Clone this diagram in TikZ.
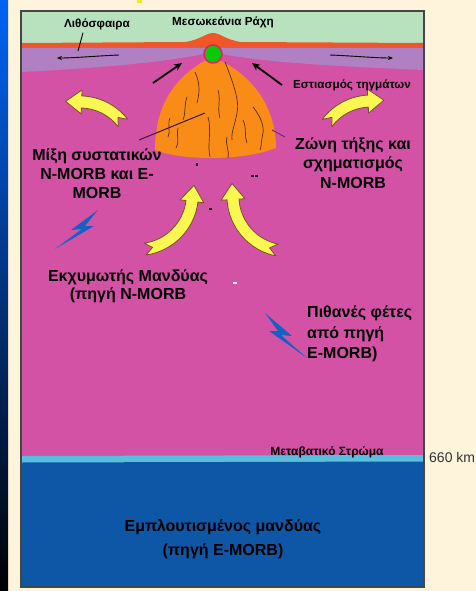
\documentclass[tikz,border=0pt]{standalone}
\usepackage{fontspec}
\setmainfont{Liberation Sans}
\newfontfamily\heavy{Liberation Sans Bold}
\usetikzlibrary{arrows.meta}
\definecolor{cream}{RGB}{254,243,219}
\definecolor{lithgreen}{RGB}{184,226,190}
\definecolor{crust}{RGB}{240,86,40}
\definecolor{lithpurple}{RGB}{176,128,194}
\definecolor{mantle}{RGB}{212,82,166}
\definecolor{transblue}{RGB}{92,190,222}
\definecolor{deepblue}{RGB}{14,86,166}
\definecolor{melt}{RGB}{248,140,22}
\definecolor{streak}{RGB}{90,45,15}
\definecolor{flowyellow}{RGB}{250,248,80}
\definecolor{flowedge}{RGB}{120,80,40}
\definecolor{bolt}{RGB}{22,96,196}
\definecolor{ridgedot}{RGB}{10,200,10}
\definecolor{ridgering}{RGB}{232,30,100}
\definecolor{framegray}{RGB}{70,70,70}
\begin{document}
\begin{tikzpicture}[x=1pt,y=1pt,
  big/.style={font=\heavy\fontsize{16}{19}\selectfont, align=center, inner sep=0pt, text=black},
  small/.style={font=\heavy\fontsize{11.7}{13}\selectfont, inner sep=0pt, text=black},
  fat/.style={fill=flowyellow, draw=flowedge, line width=0.8pt, line join=round},
  streaks/.style={draw=streak, line width=0.7pt},
  boltshape/.style={fill=bolt},
  pics/fatarrow/.style={code={
    \path[fat] (-#1:61) arc[start angle=-#1, end angle=0, radius=61]
      -- (67,0) -- (55,16) -- (43,0) -- (49,0)
      arc[start angle=0, end angle=-#1, radius=49]
      -- ({-#1+8}:55) -- cycle;
  }},
]
\useasboundingbox (0,0) rectangle (476,-591);
% page background and side strip
\fill[cream] (0,0) rectangle (476,-591);
\shade[top color={rgb,255:red,0;green,100;blue,245}, middle color={rgb,255:red,0;green,45;blue,130}, bottom color=black] (0,0) rectangle (8,-591);
\fill[yellow!90!orange] (137,0) rectangle (142,-3);

% earth layers
\fill[mantle] (21,-11) rectangle (424,-587);
\fill[lithgreen] (21,-11) rectangle (424,-46);
\fill[crust] (21,-43) -- (185,-42) .. controls (200,-40) and (206,-33) .. (213,-33)
  .. controls (220,-33) and (226,-40) .. (241,-42) -- (424,-43) -- (424,-48) -- (21,-48) -- cycle;
\fill[lithpurple] (21,-48) -- (424,-48) -- (424,-70) .. controls (330,-66) and (255,-62) .. (213,-52)
  .. controls (170,-62) and (100,-68) .. (21,-72) -- cycle;
\fill[transblue] (21,-456) -- (424,-455) -- (424,-462) -- (21,-463) -- cycle;
\fill[deepblue] (21,-462.5) -- (424,-461.5) -- (424,-587) -- (21,-587) -- cycle;
\draw[framegray, line width=1.4pt] (21,-11) rectangle (424,-587);

% melting zone under the ridge
\fill[melt] (212,-57) .. controls (175,-75) and (155,-105) .. (155,-150)
  .. controls (180,-160) and (240,-162) .. (276,-148)
  .. controls (276,-105) and (250,-72) .. (212,-57) -- cycle;
\draw[streaks] (195,-72) .. controls (201,-85) and (199,-95) .. (197,-103);
\draw[streaks] (187,-97) .. controls (184,-105) and (186,-112) .. (183,-120);
\draw[streaks] (225,-62) .. controls (232,-80) and (240,-100) .. (237,-113) .. controls (235,-125) and (231,-132) .. (232,-140);
\draw[streaks] (208,-117) .. controls (212,-130) and (207,-145) .. (210,-157);
\draw[streaks] (253,-107) .. controls (262,-118) and (264,-128) .. (263,-133) .. controls (261,-140) and (262,-145) .. (260,-150);
\draw[streaks] (243,-120) .. controls (247,-128) and (244,-136) .. (247,-143);
\draw[streaks] (170,-118) .. controls (167,-125) and (171,-131) .. (168,-137);
\draw[streaks] (227,-137) .. controls (225,-145) and (230,-152) .. (228,-158);
\draw[streaks] (178,-128) .. controls (176,-136) and (180,-142) .. (176,-148);
\draw[streaks] (218,-90) .. controls (221,-100) and (217,-108) .. (220,-118);

% ridge axis
\node[circle, fill=ridgedot, draw=ridgering, line width=1.5pt, minimum size=18pt, inner sep=0pt] (axis) at (213,-54) {};

% melt focusing arrows
\coordinate (fl1) at (153,-83);
\coordinate (fl2) at (182,-63);
\coordinate (fr1) at (282,-85);
\coordinate (fr2) at (252,-63);
\draw[line width=1.8pt, -{Stealth[length=8pt,width=7pt]}] (fl1) -- (fl2);
\draw[line width=1.8pt, -{Stealth[length=8pt,width=7pt]}] (fr1) -- (fr2);

% plate motion arrows
\coordinate (pl1) at (119,-55);
\coordinate (pl2) at (57,-58);
\coordinate (pr1) at (330,-55);
\coordinate (pr2) at (393,-58);
\draw[line width=0.9pt, -{Stealth[length=5pt,width=4pt]}] (pl1) .. controls (95,-56) and (75,-58) .. (pl2);
\draw[line width=0.9pt, -{Stealth[length=5pt,width=4pt]}] (pr1) .. controls (355,-56) and (375,-58) .. (pr2);

% mantle flow arrows
\pic[rotate=88] at (79.7,-156.9) {fatarrow=50};
\pic[rotate=-86.8, xscale=-1] at (371.0,-156.0) {fatarrow=50};
\pic[rotate=-7] at (137.4,-194.6) {fatarrow=75};
\pic[rotate=3.5, xscale=-1] at (287.9,-196.1) {fatarrow=75};

% enriched slivers
\fill[boltshape] (98,-210) -- (71,-230) -- (82,-229) -- (55,-249) -- (94,-226) -- (85,-226) -- cycle;
\fill[boltshape] (265,-313) -- (292,-336) -- (281,-335) -- (307,-358) -- (269,-331) -- (278,-331) -- cycle;

% labels
\node[small] (litho) at (97,-24) {Λιθόσφαιρα};
\node[small] (ridge) at (223,-22) {Μεσωκεάνια Ράχη};
\node[small] (focus) at (352,-85) {Εστιασμός τηγμάτων};
\coordinate (lithotip) at (78,-51);
\draw[line width=0.9pt] (litho.south) ++(-14,-3) -- (lithotip);

\node[big] (mix) at (97,-174) {Μίξη συστατικών\\N-MORB και E-\\MORB};
\node[big, font=\heavy\fontsize{16}{19.5}\selectfont] (zone) at (353,-163) {Ζώνη τήξης και\\σχηματισμός\\N-MORB};
\node[big, font=\heavy\fontsize{16}{18}\selectfont] (depl) at (128,-286) {Εκχυμωτής Μανδύας\\(πηγή N-MORB};
\node[big, align=left, font=\heavy\fontsize{16}{20.5}\selectfont, anchor=west] (slices) at (307,-334) {Πιθανές φέτες\\από πηγή\\E-MORB)};
\node[font=\heavy\fontsize{12}{13}\selectfont, inner sep=0pt] (trans) at (327,-452) {Μεταβατικό Στρώμα};
\node[font=\fontsize{14}{16}\selectfont, text={rgb,255:red,50;green,50;blue,50}, anchor=west, inner sep=0pt] (depth) at (429,-457) {660 km};
\node[big, font=\heavy\fontsize{16}{24}\selectfont] (enr) at (223,-539) {Εμπλουτισμένος μανδύας\\(πηγή E-MORB)};

% pointers into the melting zone
\coordinate (mixin) at (205,-113);
\coordinate (mixout) at (139,-140);
\draw[line width=1pt, draw={rgb,255:red,60;green,20;blue,60}] (mixin) -- (mixout);
\coordinate (zonein) at (272,-130);
\coordinate (zoneout) at (285,-137);
\draw[line width=1pt, draw={rgb,255:red,120;green,40;blue,120}] (zonein) -- (zoneout);

% small marks
\fill[black] (196,-163) rectangle (198,-166);
\fill[black] (251,-175) rectangle (254,-177);
\fill[black] (255,-175) rectangle (258,-177);
\fill[black] (209,-208) rectangle (212,-210);
\fill[white] (233,-282) rectangle (237,-283.5);
\end{tikzpicture}
\end{document}
